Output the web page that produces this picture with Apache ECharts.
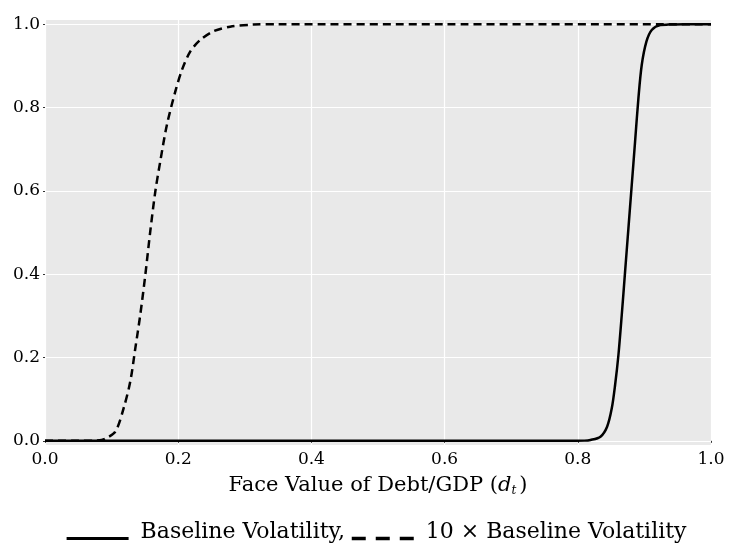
<!DOCTYPE html>
<html>
<head>
<meta charset="utf-8">
<script src="https://cdn.jsdelivr.net/npm/echarts@6/dist/echarts.min.js"></script>
<style>
  html, body { margin: 0; padding: 0; background: #fff; }
  #chart { width: 732px; height: 545px; }
</style>
</head>
<body>
<div id="chart"></div>
<script>
// values
const xTicks = [0, 0.2, 0.4, 0.6, 0.8, 1.0]
const yTicks = [0, 0.2, 0.4, 0.6, 0.8, 1.0]

const baseX = [0, 0.2, 0.4, 0.6, 0.78, 0.81, 0.819, 0.834, 0.844, 0.851, 0.856, 0.861, 0.866, 0.871, 0.876, 0.881, 0.886, 0.891, 0.896, 0.903, 0.911, 0.924, 0.936, 0.96, 1.0]
const baseY = [0, 0, 0, 0, 0, 0.0005, 0.002, 0.010, 0.034, 0.078, 0.134, 0.206, 0.302, 0.406, 0.510, 0.614, 0.718, 0.822, 0.902, 0.958, 0.986, 0.998, 0.999, 1.0, 1.0]

const highX = [0, 0.05, 0.075, 0.085, 0.0905, 0.1056, 0.118, 0.128, 0.1356, 0.143, 0.1506, 0.158, 0.1656, 0.173, 0.183, 0.1956, 0.2056, 0.218, 0.233, 0.253, 0.278, 0.313, 0.35, 0.6, 1.0]
const highY = [0, 0, 0.0005, 0.002, 0.005, 0.022, 0.078, 0.142, 0.222, 0.302, 0.398, 0.502, 0.598, 0.670, 0.758, 0.838, 0.890, 0.934, 0.962, 0.983, 0.994, 0.999, 1.0, 1.0, 1.0]

const seriesNames = ['Baseline Volatility,', '10 \u00d7 Baseline Volatility']

const toPairs = (xs, ys) => xs.map((x, i) => [x, ys[i]])

const chart = echarts.init(document.getElementById('chart'))

const serif = 'DejaVu Serif'

const option = {
  animation: false,
  grid: {
    left: 45,
    right: 21,
    top: 20,
    bottom: 100,
    show: true,
    backgroundColor: '#e9e9e9',
    borderWidth: 0
  },
  legend: {
    left: 65,
    top: 521,
    padding: 0,
    itemWidth: 62,
    itemHeight: 16,
    itemGap: 5,
    itemStyle: { opacity: 0 },
    formatter: name => '{t|' + name + '}',
    textStyle: {
      color: '#000',
      rich: {
        t: { fontFamily: serif, fontSize: 22, color: '#000', padding: [0, 0, 13, 7] }
      }
    },
    data: [
      { name: seriesNames[0], lineStyle: { width: 3.2, type: 'solid' } },
      { name: seriesNames[1], lineStyle: { width: 3.5, type: [14, 10] } }
    ]
  },
  xAxis: {
    type: 'value',
    min: 0,
    max: 1,
    interval: 0.2,
    name: '{a|Face Value of Debt/GDP (}{i|d}{s|t}{a|)}',
    nameLocation: 'middle',
    nameGap: 29,
    nameTextStyle: {
      rich: {
        a: { fontFamily: serif, fontSize: 21, color: '#000' },
        i: { fontFamily: serif, fontSize: 21, fontStyle: 'italic', color: '#000' },
        s: { fontFamily: serif, fontSize: 12, fontStyle: 'italic', color: '#000', padding: [11, 3, 0, 0] }
      }
    },
    axisLine: { show: false },
    axisTick: { show: true, length: 2, lineStyle: { color: '#333' } },
    axisLabel: {
      fontFamily: serif,
      fontSize: 17,
      color: '#000',
      margin: 6,
      formatter: v => v.toFixed(1)
    },
    splitLine: { show: true, lineStyle: { color: '#fff', width: 1.2 } }
  },
  yAxis: {
    type: 'value',
    min: -0.01,
    max: 1.01,
    axisLine: { show: false },
    axisTick: { show: true, length: 2, customValues: yTicks, lineStyle: { color: '#333' } },
    axisLabel: {
      fontFamily: serif,
      fontSize: 17,
      color: '#000',
      margin: 5,
      customValues: yTicks,
      formatter: v => v.toFixed(1)
    },
    splitLine: { show: true, lineStyle: { color: '#fff', width: 1.2 } }
  },
  series: [
    {
      name: seriesNames[0],
      type: 'line',
      symbol: 'none',
      smooth: 0.3,
      data: toPairs(baseX, baseY),
      lineStyle: { color: '#000', width: 2.5, type: 'solid' },
      itemStyle: { color: '#000' },
      z: 3
    },
    {
      name: seriesNames[1],
      type: 'line',
      symbol: 'none',
      smooth: 0.3,
      data: toPairs(highX, highY),
      lineStyle: { color: '#000', width: 2.5, type: [8, 5] },
      itemStyle: { color: '#000' },
      z: 2
    }
  ]
}

chart.setOption(option)
</script>
</body>
</html>
